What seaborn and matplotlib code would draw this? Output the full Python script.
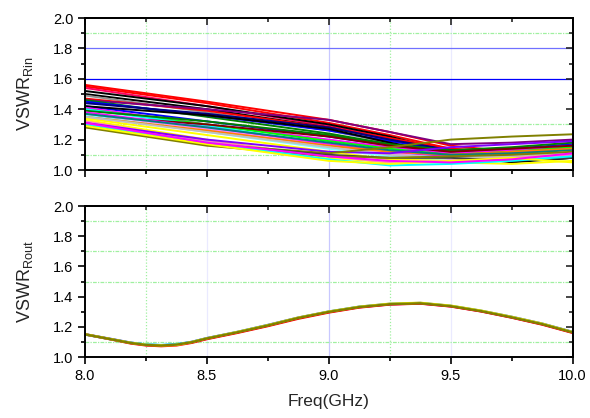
import matplotlib
matplotlib.use("Agg")
import matplotlib.pyplot as plt
import seaborn as sns
import pandas as pd
from matplotlib.ticker import MultipleLocator, FormatStrFormatter

# ---------------- data ----------------
freq_top = [8.0, 8.5, 9.0, 9.25, 9.5, 9.75, 10.0]

rin_colors = ["#ff0000", "#ff0000", "#ff0060", "#000000", "#000000", "#909090",
              "#ff0000", "#800080", "#008000", "#0000ff", "#000080",
              "#0000ff", "#000000", "#ff00ff", "#00ff00", "#00ffff", "#008000",
              "#800000", "#ff00ff", "#ff80ff", "#80ffff", "#ff8000", "#008080",
              "#ffff00", "#c0c0c0",
              "#ffff00", "#ff80c0", "#8000ff", "#808000", "#404040", "#808000",
              "#00ffff", "#ffff00", "#ff00ff"]

rin_values = [
    [1.56, 1.45, 1.33, 1.25, 1.16, 1.12, 1.13],
    [1.55, 1.44, 1.31, 1.23, 1.14, 1.10, 1.11],
    [1.54, 1.42, 1.29, 1.21, 1.13, 1.11, 1.14],
    [1.52, 1.42, 1.30, 1.22, 1.12, 1.06, 1.08],
    [1.50, 1.40, 1.28, 1.20, 1.11, 1.08, 1.10],
    [1.49, 1.38, 1.26, 1.18, 1.10, 1.07, 1.09],
    [1.47, 1.39, 1.28, 1.21, 1.14, 1.12, 1.15],
    [1.46, 1.40, 1.33, 1.25, 1.17, 1.18, 1.20],
    [1.46, 1.35, 1.24, 1.17, 1.12, 1.12, 1.14],
    [1.45, 1.36, 1.26, 1.19, 1.13, 1.13, 1.16],
    [1.44, 1.37, 1.28, 1.20, 1.13, 1.14, 1.15],
    [1.42, 1.32, 1.22, 1.16, 1.12, 1.14, 1.17],
    [1.42, 1.36, 1.27, 1.18, 1.10, 1.05, 1.08],
    [1.41, 1.30, 1.20, 1.15, 1.11, 1.13, 1.16],
    [1.40, 1.30, 1.19, 1.14, 1.10, 1.12, 1.15],
    [1.40, 1.29, 1.17, 1.12, 1.08, 1.09, 1.12],
    [1.39, 1.32, 1.23, 1.17, 1.13, 1.15, 1.18],
    [1.36, 1.30, 1.22, 1.16, 1.12, 1.14, 1.16],
    [1.38, 1.28, 1.17, 1.12, 1.09, 1.11, 1.14],
    [1.37, 1.27, 1.16, 1.11, 1.07, 1.09, 1.13],
    [1.36, 1.25, 1.14, 1.09, 1.06, 1.07, 1.10],
    [1.35, 1.26, 1.16, 1.12, 1.10, 1.12, 1.14],
    [1.37, 1.28, 1.18, 1.13, 1.10, 1.11, 1.13],
    [1.34, 1.23, 1.12, 1.07, 1.06, 1.08, 1.11],
    [1.35, 1.25, 1.15, 1.10, 1.08, 1.09, 1.12],
    [1.33, 1.20, 1.08, 1.05, 1.05, 1.04, 1.06],
    [1.32, 1.19, 1.09, 1.05, 1.06, 1.08, 1.10],
    [1.31, 1.20, 1.12, 1.11, 1.15, 1.17, 1.19],
    [1.30, 1.17, 1.11, 1.15, 1.20, 1.22, 1.235],
    [1.29, 1.17, 1.10, 1.08, 1.08, 1.06, 1.08],
    [1.28, 1.16, 1.09, 1.08, 1.09, 1.10, 1.12],
    [1.30, 1.18, 1.07, 1.03, 1.04, 1.06, 1.09],
    [1.29, 1.17, 1.06, 1.04, 1.06, 1.08, 1.05],
    [1.31, 1.18, 1.09, 1.06, 1.05, 1.07, 1.11],
]

freq_bot = [8.0, 8.125, 8.1875, 8.25, 8.3125, 8.375, 8.4375, 8.5, 8.625, 8.75,
            8.875, 9.0, 9.125, 9.25, 9.375, 9.5, 9.625, 9.75, 9.875, 10.0]
rout_colors = ["#ff00ff", "#0000ff", "#00ffff", "#ff0000", "#ffff00", "#808000"]
rout_values = [
    [1.150, 1.112, 1.093, 1.080, 1.076, 1.081, 1.097, 1.121, 1.163, 1.208, 1.258, 1.298, 1.330, 1.349, 1.355, 1.336, 1.303, 1.262, 1.217, 1.162],
    [1.151, 1.114, 1.095, 1.082, 1.078, 1.083, 1.100, 1.125, 1.166, 1.212, 1.261, 1.301, 1.333, 1.352, 1.358, 1.339, 1.306, 1.266, 1.221, 1.166],
    [1.149, 1.112, 1.094, 1.083, 1.079, 1.084, 1.099, 1.123, 1.165, 1.210, 1.259, 1.300, 1.332, 1.351, 1.357, 1.338, 1.305, 1.264, 1.219, 1.164],
    [1.150, 1.111, 1.090, 1.077, 1.072, 1.077, 1.094, 1.119, 1.160, 1.205, 1.254, 1.295, 1.328, 1.348, 1.354, 1.335, 1.302, 1.261, 1.215, 1.160],
    [1.151, 1.113, 1.094, 1.081, 1.077, 1.080, 1.099, 1.124, 1.166, 1.211, 1.261, 1.301, 1.333, 1.353, 1.359, 1.340, 1.307, 1.266, 1.221, 1.165],
    [1.150, 1.112, 1.093, 1.080, 1.076, 1.082, 1.098, 1.123, 1.164, 1.209, 1.259, 1.299, 1.331, 1.350, 1.356, 1.337, 1.304, 1.263, 1.218, 1.163],
]

# ---------------- long-form tables ----------------
rows = []
for i, vals in enumerate(rin_values):
    for f, v in zip(freq_top, vals):
        rows.append({"freq": f, "vswr": v, "curve": f"c{i}"})
df_in = pd.DataFrame(rows)
rows = []
for i, vals in enumerate(rout_values):
    for f, v in zip(freq_bot, vals):
        rows.append({"freq": f, "vswr": v, "curve": f"c{i}"})
df_out = pd.DataFrame(rows)

# ---------------- style ----------------
sns.set_style("white")
plt.rcParams["font.family"] = ["Liberation Sans", "DejaVu Sans"]
plt.rcParams["mathtext.fontset"] = "custom"
plt.rcParams["mathtext.rm"] = "Liberation Sans"
plt.rcParams["mathtext.default"] = "regular"

fig = plt.figure(figsize=(5.9, 4.18), dpi=100)
ax1 = fig.add_axes([0.144, 0.5933, 0.8266, 0.3636])
ax2 = fig.add_axes([0.144, 0.1459, 0.8266, 0.3612])

green = "#a0f0a0"


def grid(ax, hgreen):
    ax.axvline(9.0, color="#c8c8ff", lw=0.9, zorder=0)
    for x in [8.5, 9.5]:
        ax.axvline(x, color="#eaeaff", lw=0.9, zorder=0)
    for x in [8.25, 9.25]:
        ax.axvline(x, color=green, lw=0.9, ls=(0, (1, 1.5)), zorder=0)
    for y in hgreen:
        ax.axhline(y, color=green, lw=0.9, ls=(0, (3, 1, 1, 1)), zorder=0)


grid(ax1, [1.1, 1.3, 1.9])
ax1.axhline(1.8, color="#7070ff", lw=0.9, zorder=0)
ax1.axhline(1.6, color="#0000ff", lw=0.9, zorder=0)
grid(ax2, [1.1, 1.5, 1.7, 1.9])

sns.lineplot(data=df_in, x="freq", y="vswr", hue="curve", palette=rin_colors,
             legend=False, lw=1.4, ax=ax1, estimator=None, sort=False)
sns.lineplot(data=df_out, x="freq", y="vswr", hue="curve", palette=rout_colors,
             legend=False, lw=1.7, ax=ax2, estimator=None, sort=False)

for ax in (ax1, ax2):
    ax.set_xlim(8.0, 10.0)
    ax.set_ylim(1.0, 2.0)
    ax.xaxis.set_major_locator(MultipleLocator(0.5))
    ax.xaxis.set_minor_locator(MultipleLocator(0.25))
    ax.yaxis.set_major_locator(MultipleLocator(0.2))
    ax.yaxis.set_minor_locator(MultipleLocator(0.1))
    ax.yaxis.set_major_formatter(FormatStrFormatter("%.1f"))
    ax.xaxis.set_major_formatter(FormatStrFormatter("%.1f"))
    for s in ax.spines.values():
        s.set_visible(True)
        s.set_color("black")
        s.set_linewidth(1.4)
    ax.tick_params(which="both", direction="out", left=True, bottom=True,
                   top=False, right=False, width=1.2, labelsize=10.5, colors="black")
    ax.tick_params(which="major", length=5)
    ax.tick_params(which="minor", length=3)
    sec_y = ax.secondary_yaxis("right")
    sec_y.yaxis.set_major_locator(MultipleLocator(0.2))
    sec_y.yaxis.set_minor_locator(MultipleLocator(0.1))
    sec_y.tick_params(which="both", direction="in", labelright=False, width=1.2)
    sec_y.tick_params(which="major", length=5)
    sec_y.tick_params(which="minor", length=3)
    sec_y.spines["right"].set_linewidth(1.4)
    sec_x = ax.secondary_xaxis("top")
    sec_x.xaxis.set_major_locator(MultipleLocator(0.5))
    sec_x.xaxis.set_minor_locator(MultipleLocator(0.25))
    sec_x.tick_params(which="both", direction="in", labeltop=False, width=1.2)
    sec_x.tick_params(which="major", length=5)
    sec_x.tick_params(which="minor", length=3)
    sec_x.spines["top"].set_linewidth(1.4)

ax1.tick_params(labelbottom=False)
ax1.set_xlabel("")
ax1.set_ylabel(r"VSWR$_{Rin}$", fontsize=13, labelpad=13)
ax2.set_ylabel(r"VSWR$_{Rout}$", fontsize=13, labelpad=13)
ax2.set_xlabel("Freq(GHz)", fontsize=12.5, labelpad=8)

fig.savefig("out.png", dpi=100)
